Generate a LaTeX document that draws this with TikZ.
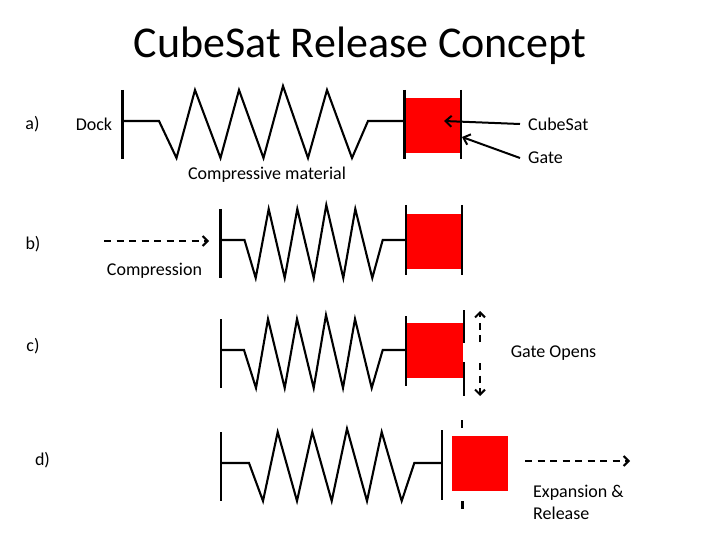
\documentclass[tikz,border=0pt]{standalone}
\usepackage{fontspec}
\setmainfont{Carlito}
\usetikzlibrary{arrows.meta}
\tikzset{
	springline/.style = {black, line width = 2.1pt, line join = miter},
	gatebar/.style = {black, line width = 2.1pt},
	satbox/.style = {fill = red, inner sep = 0, minimum width = 56, minimum height = 55},
	flowarrow/.style = {-{Straight Barb[length=5pt, width=10pt]}, black, line width = 2pt, dash pattern = on 7pt off 5.5pt},
	pointarrow/.style = {-{Straight Barb[length=6pt, width=11pt]}, black, line width = 2pt},
	lbl/.style = {black, font = \fontsize{18}{22}\selectfont, inner sep = 0}
}

\begin{document}
\begin{tikzpicture}[x=1pt, y=-1pt]
		\useasboundingbox (0,0) rectangle (720,540);

		\node[black, font = \fontsize{44}{52}\selectfont, inner sep = 0] (title) at (360, 46) {CubeSat Release Concept};

		% a
		\node[lbl] (row_a) at (32.5, 124) {a)};
		\node[lbl] (dock) at (94, 124) {Dock};
		\node[lbl] (material) at (267, 175) {Compressive material};
		\node[satbox] (sat_a) at (432.5, 125.5) {};
		\coordinate (dock_a) at (122.5, 121);
		\coordinate (end_a) at (404.5, 121);
		\draw[gatebar] (122.5,90) -- (122.5,159);
		\draw[springline] (dock_a) -- (159,121) -- (176.5,158) -- (195,90) -- (220.5,158) -- (239,90) -- (263.5,158) -- (283,86) -- (308,158) -- (327,90) -- (352,158) -- (368,121) -- (end_a);
		\draw[gatebar] (404.5,90) -- (404.5,159);
		\draw[gatebar] (461,90) -- (461,159);
		\node[lbl, anchor = west] (cubesat) at (528, 124) {CubeSat};
		\node[lbl, anchor = west] (gate) at (528, 158) {Gate};
		\coordinate (cubesat_tip) at (444, 121);
		\coordinate (gate_tip) at (462, 137);
		\draw[pointarrow] ([xshift=-8]cubesat.west) -- (cubesat_tip);
		\draw[pointarrow] ([xshift=-8]gate.west) -- (gate_tip);

		% b
		\node[lbl] (row_b) at (33, 244) {b)};
		\node[lbl] (compression) at (154.5, 271) {Compression};
		\node[satbox] (sat_b) at (434, 241.5) {};
		\coordinate (dock_b) at (220.5, 240);
		\coordinate (end_b) at (405.7, 240);
		\coordinate (push_from) at (104, 241);
		\coordinate (push_to) at (209, 241);
		\draw[flowarrow] (push_from) -- (push_to);
		\draw[gatebar] (220.5,209) -- (220.5,278);
		\draw[springline] (dock_b) -- (244.5,240) -- (255.7,278) -- (268.7,209) -- (284.7,278) -- (297.3,209) -- (313.7,278) -- (326.3,205) -- (343.3,278) -- (355.3,209) -- (372.3,278) -- (382.7,240) -- (end_b);
		\draw[gatebar] (405.7,205) -- (405.7,275);
		\draw[gatebar] (461.7,205) -- (461.7,275);

		% c
		\node[lbl] (row_c) at (33, 346) {c)};
		\node[lbl] (opens) at (553.5, 353) {Gate Opens};
		\node[satbox, minimum width = 57] (sat_c) at (434.5, 350.5) {};
		\coordinate (dock_c) at (220.7, 350);
		\coordinate (end_c) at (406, 350);
		\draw[gatebar] (220.7,319) -- (220.7,388);
		\draw[springline] (dock_c) -- (244,350) -- (256,388) -- (268,319) -- (284.7,388) -- (297,319) -- (313.7,388) -- (326,315) -- (343,388) -- (355,319) -- (371.7,388) -- (382.7,350) -- (end_c);
		\draw[gatebar] (406,316) -- (406,386);
		\draw[gatebar] (464,310) -- (464,343);
		\draw[gatebar] (464,362) -- (464,396);
		\coordinate (up_from) at (480, 342);
		\coordinate (up_to) at (480, 311);
		\coordinate (down_from) at (480, 363);
		\coordinate (down_to) at (480, 396);
		\draw[flowarrow] (up_from) -- (up_to);
		\draw[flowarrow] (down_from) -- (down_to);

		% d
		\node[lbl] (row_d) at (42.5, 460) {d)};
		\node[satbox] (sat_d) at (479.7, 463.3) {};
		\coordinate (dock_d) at (220.7, 463);
		\coordinate (end_d) at (442.3, 463);
		\draw[gatebar] (220.7,432) -- (220.7,501);
		\draw[springline] (dock_d) -- (249,463) -- (263,501) -- (277.7,432) -- (297,501) -- (312.3,432) -- (331.7,501) -- (347,428.7) -- (367,501) -- (381.7,432) -- (401.7,501) -- (414.3,463) -- (end_d);
		\draw[gatebar] (442.3,430) -- (442.3,500);
		\draw[gatebar] (462,420) -- (462,428);
		\draw[gatebar] (462.5,501) -- (462.5,509);
		\coordinate (out_from) at (525, 461);
		\coordinate (out_to) at (630, 461);
		\draw[flowarrow] (out_from) -- (out_to);
		\node[lbl, anchor = west] (expansion) at (533, 493) {Expansion \&};
		\node[lbl, anchor = west] (release) at (533, 513) {Release};
\end{tikzpicture}
\end{document}
